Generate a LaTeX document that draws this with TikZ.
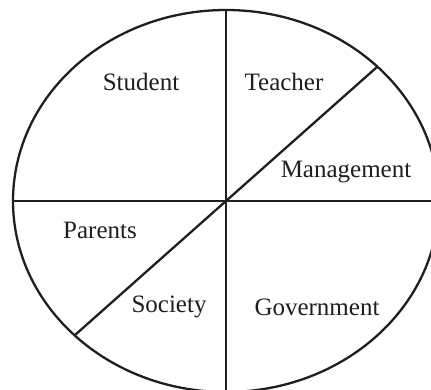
\documentclass[tikz,border=0pt]{standalone}
\usepackage{fontspec}
\setmainfont{Liberation Serif}
\begin{document}
\begin{tikzpicture}[x=1pt,y=-1pt,
  edge/.style={line width=2.3pt,black!88},
  lbl/.style={font=\fontsize{25}{30}\selectfont,text=black!88,inner sep=0pt}]
\useasboundingbox (0,0) rectangle (431,390);
\clip (0,0) rectangle (431,390);
\fill[white] (0,0) rectangle (431,390);
\coordinate (c) at (226,201);
\draw[edge] (c) ellipse [x radius=213, y radius=191];
\coordinate (top) at (226,10);
\coordinate (bot) at (226,392);
\coordinate (lft) at (13,201);
\coordinate (rgt) at (439,201);
\coordinate (ur) at (377,67);
\coordinate (ll) at (75,335);
\draw[edge] (top) -- (bot);
\draw[edge] (lft) -- (rgt);
\draw[edge] (ur) -- (ll);
\node[lbl] (student) at (141,82) {Student};
\node[lbl] (teacher) at (284,82) {Teacher};
\node[lbl] (management) at (346,172) {Management};
\node[lbl] (parents) at (100,230) {Parents};
\node[lbl] (society) at (169,307) {Society};
\node[lbl] (government) at (317,307) {Government};
\end{tikzpicture}
\end{document}
